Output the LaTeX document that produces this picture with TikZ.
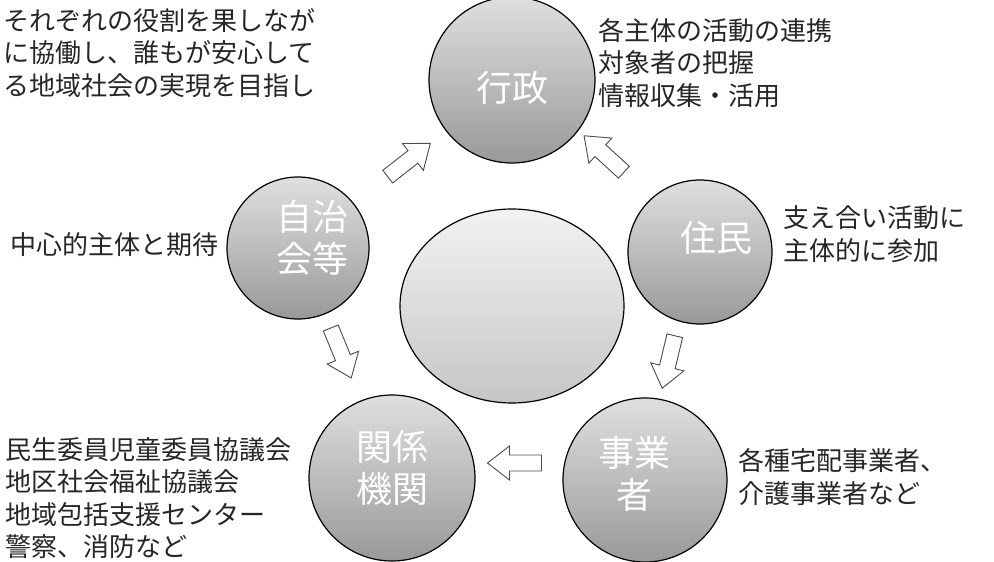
\documentclass[tikz,border=0pt]{standalone}
\usepackage{fontspec}
\newfontfamily\jp{Noto Sans CJK JP}
\usetikzlibrary{shapes.geometric,calc}
\tikzset{
  ball/.style={circle, draw=black, line width=1.2pt, top color=gray!25, bottom color=gray!80, inner sep=0pt},
  inlabel/.style={text=white, font=\jp\fontsize{36}{42}\selectfont, align=center, inner sep=0pt},
  desc/.style={text=black!85, font=\jp\fontsize{26}{32.5}\selectfont, align=left, anchor=west, inner sep=0pt},
  barrow/.pic={\draw[draw=black!70, line width=0.9pt, fill=white, line join=miter]
     (-27,-8) -- (5,-8) -- (5,-17) -- (27,0) -- (5,17) -- (5,8) -- (-27,8) -- cycle;},
}
\begin{document}
\begin{tikzpicture}[x=1pt,y=-1pt]
\useasboundingbox (0,0) rectangle (994,562);
% circles
\node[ball, minimum size=166pt] (T) at (512,80) {};
\node[ball, minimum size=142pt] (L) at (298,248) {};
\node[ball, minimum size=144pt] (R) at (700,252) {};
\node[ellipse, draw=black, line width=1.2pt, top color=gray!10, bottom color=gray!45, minimum width=224pt, minimum height=194pt] (C) at (512,306) {};
\node[ball, minimum size=166pt] (BL) at (392,478) {};
\node[ball, minimum size=164pt] (BR) at (645,480) {};
% circle labels
\node[inlabel] (tT) at (512,88) {行政};
\node[inlabel] (tL) at (312,238) {自治\\会等};
\node[inlabel] (tR) at (716,238) {住民};
\node[inlabel] (tBL) at (392,468) {関係\\機関};
\node[inlabel] (tBR) at (634,474) {事業\\者};
% arrows
\pic[rotate=38] at ($(L)!0.5!(T)+(4,-4)$) {barrow};
\pic[rotate=137.5] at ($(R)!0.5!(T)+(-2,-12)$) {barrow};
\pic[rotate=-103.5] at ($(R)!0.5!(BR)+(-4,-4)$) {barrow};
\pic[rotate=180] at ($(BR)!0.5!(BL)+(-4,-16)$) {barrow};
\pic[rotate=-67.8] at ($(L)!0.5!(BL)+(-4,-10)$) {barrow};
% descriptions
\node[desc] (d1) at (3,53) {それぞれの役割を果しなが\\に協働し、誰もが安心して\\る地域社会の実現を目指し};
\node[desc] (d2) at (598,63) {各主体の活動の連携\\対象者の把握\\情報収集・活用};
\node[desc] (d3) at (10,245) {中心的主体と期待};
\node[desc] (d4) at (783,234) {支え合い活動に\\主体的に参加};
\node[desc] (d5) at (5,498) {民生委員児童委員協議会\\地区社会福祉協議会\\地域包括支援センター\\警察、消防など};
\node[desc] (d6) at (738,477) {各種宅配事業者、\\介護事業者など};
\end{tikzpicture}
\end{document}
